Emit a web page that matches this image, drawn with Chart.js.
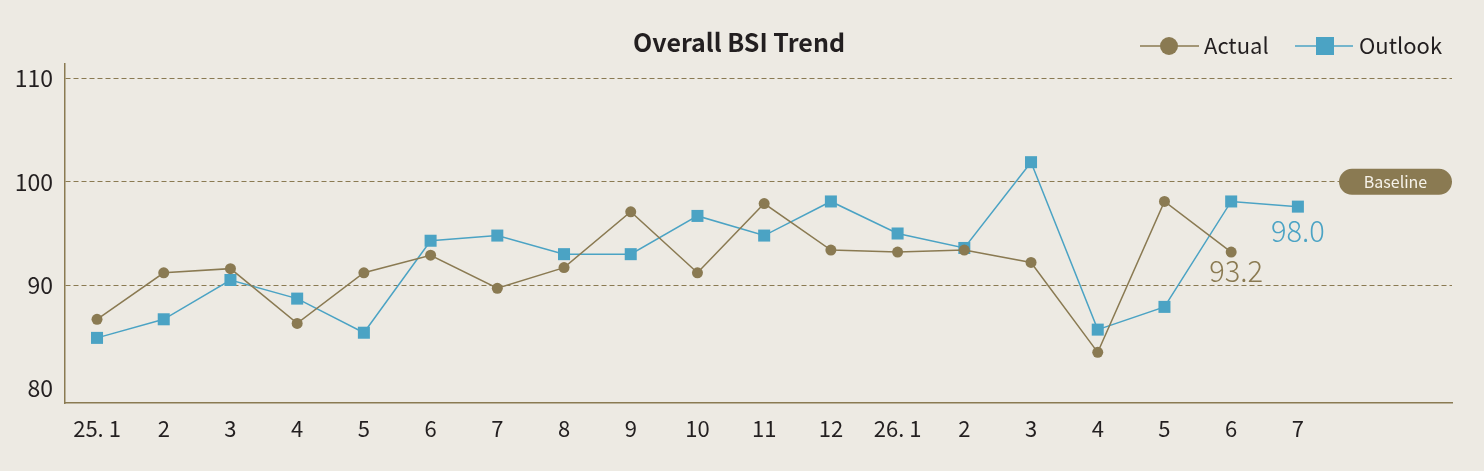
<!DOCTYPE html>
<html>
<head>
<meta charset="utf-8">
<script src="https://cdn.jsdelivr.net/npm/chart.js@4/dist/chart.umd.min.js"></script>
<style>
  html, body { margin: 0; padding: 0; background: #EDEAE3; }
  #wrap { width: 1484px; height: 471px; position: relative; }
</style>
</head>
<body>
<div id="wrap"><canvas id="c" width="1484" height="471"></canvas></div>
<script>
const categories = ['25. 1','2','3','4','5','6','7','8','9','10','11','12','26. 1','2','3','4','5','6','7'];
const actualValues = [86.7,91.2,91.6,86.3,91.2,92.9,89.7,91.7,97.1,91.2,97.9,93.4,93.2,93.4,92.2,83.5,98.1,93.2,null];
const outlookValues = [84.9,86.7,90.5,88.7,85.4,94.3,94.8,93.0,93.0,96.7,94.8,98.1,95.0,93.6,101.9,85.7,87.9,98.1,97.6];
const yTickValues = [80,90,100,110];
const seriesNames = ['Actual','Outlook'];
const endLabels = ['93.2','98.0'];
const titleText = 'Overall BSI Trend';
const baselineValue = 100;
const baselineText = 'Baseline';

const BROWN = '#8A7A52';
const BLUE = '#4BA3C4';
const FONT = "'Noto Sans CJK KR', 'Noto Sans', sans-serif";

const toPts = arr => arr.map((v, i) => ({x: i, y: v}));

const bgPlugin = {
  id: 'bg',
  beforeDraw(chart) {
    const ctx = chart.ctx;
    ctx.save();
    ctx.fillStyle = '#EDEAE3';
    ctx.fillRect(0, 0, chart.width, chart.height);
    ctx.restore();
  }
};

const decorPlugin = {
  id: 'decor',
  afterDraw(chart) {
    const ctx = chart.ctx;
    const area = chart.chartArea;
    ctx.save();
    // title
    ctx.fillStyle = '#231F20';
    ctx.font = "bold 25px " + FONT;
    ctx.textAlign = 'center';
    ctx.textBaseline = 'middle';
    ctx.fillText(titleText, 739, 42);

    // legend
    const ds = chart.data.datasets;
    const legendItems = [
      {x0: 1140, x1: 1199, mx: 1169, tx: 1204},
      {x0: 1295, x1: 1353, mx: 1325, tx: 1359}
    ];
    const ly = 46;
    ctx.font = "22px " + FONT;
    ctx.textAlign = 'left';
    legendItems.forEach((it, i) => {
      const d = ds[i];
      ctx.strokeStyle = d.borderColor;
      ctx.lineWidth = 1.5;
      ctx.beginPath();
      ctx.moveTo(it.x0, ly);
      ctx.lineTo(it.x1, ly);
      ctx.stroke();
      ctx.fillStyle = d.backgroundColor;
      if (d.pointStyle === 'rect') {
        ctx.fillRect(it.mx - 9, ly - 9, 18, 18);
      } else {
        ctx.beginPath();
        ctx.arc(it.mx, ly, 9, 0, Math.PI * 2);
        ctx.fill();
      }
      ctx.fillStyle = '#231F20';
      ctx.fillText(d.label, it.tx, ly);
    });

    // baseline pill
    const yb = chart.scales.y.getPixelForValue(baselineValue);
    const w = 113, h = 26, r = 13;
    const xr = area.right, xl = xr - w;
    ctx.fillStyle = BROWN;
    ctx.beginPath();
    ctx.moveTo(xl + r, yb - h / 2);
    ctx.lineTo(xr - r, yb - h / 2);
    ctx.arc(xr - r, yb, r, -Math.PI / 2, Math.PI / 2);
    ctx.lineTo(xl + r, yb + h / 2);
    ctx.arc(xl + r, yb, r, Math.PI / 2, Math.PI * 1.5);
    ctx.closePath();
    ctx.fill();
    ctx.fillStyle = '#F7F3EA';
    ctx.font = "16px " + FONT;
    ctx.textAlign = 'center';
    ctx.fillText(baselineText, xl + w / 2, yb);

    // end labels
    const offsets = [{dx: 5, dy: 19}, {dx: 0, dy: 24}];
    ds.forEach((d, i) => {
      const meta = chart.getDatasetMeta(i);
      let last = -1;
      d.data.forEach((p, j) => { if (p.y !== null && p.y !== undefined) last = j; });
      if (last < 0) return;
      const el = meta.data[last];
      ctx.fillStyle = d.borderColor;
      ctx.font = "300 29px " + FONT;
      ctx.textAlign = 'center';
      ctx.textBaseline = 'middle';
      ctx.fillText(endLabels[i], el.x + offsets[i].dx, el.y + offsets[i].dy);
    });
    ctx.restore();
  }
};

new Chart(document.getElementById('c'), {
  type: 'line',
  data: {
    datasets: [
      {
        label: seriesNames[0],
        data: toPts(actualValues),
        borderColor: BROWN,
        backgroundColor: BROWN,
        borderWidth: 1.5,
        pointStyle: 'circle',
        pointRadius: 5.5,
        pointHoverRadius: 5.5,
        pointBorderWidth: 0,
        tension: 0,
        spanGaps: false
      },
      {
        label: seriesNames[1],
        data: toPts(outlookValues),
        borderColor: BLUE,
        backgroundColor: BLUE,
        borderWidth: 1.5,
        pointStyle: 'rect',
        pointRadius: 8.5,
        pointHoverRadius: 8.5,
        pointBorderWidth: 0,
        tension: 0
      }
    ]
  },
  options: {
    responsive: false,
    animation: false,
    devicePixelRatio: 1,
    layout: { padding: { left: 0, right: 32, top: 64, bottom: 0 } },
    plugins: {
      legend: { display: false },
      title: { display: false },
      tooltip: { enabled: false }
    },
    scales: {
      x: {
        type: 'linear',
        min: -0.48,
        max: 20.31,
        afterBuildTicks(scale) {
          scale.ticks = categories.map((c, i) => ({value: i}));
        },
        afterFit(scale) { scale.height = 68; },
        grid: { display: false, drawTicks: false },
        border: { display: true, color: BROWN, width: 1.5 },
        ticks: {
          padding: 12,
          autoSkip: false,
          maxRotation: 0,
          color: '#231F20',
          font: { family: FONT, size: 22 },
          callback: (v) => categories[v] !== undefined ? categories[v] : ''
        }
      },
      y: {
        type: 'linear',
        min: 78.6,
        max: 111.4,
        afterBuildTicks(scale) {
          scale.ticks = yTickValues.map(v => ({value: v}));
        },
        afterFit(scale) { scale.width = 65; },
        grid: {
          drawTicks: false,
          color: (ctx) => (ctx.tick && ctx.tick.value === 80) ? 'rgba(0,0,0,0)' : BROWN,
          lineWidth: 1
        },
        border: { display: true, color: BROWN, width: 1.5, dash: [5, 3] },
        ticks: {
          padding: 12,
          color: '#231F20',
          font: { family: FONT, size: 23 }
        }
      }
    }
  },
  plugins: [bgPlugin, decorPlugin]
});
</script>
</body>
</html>
